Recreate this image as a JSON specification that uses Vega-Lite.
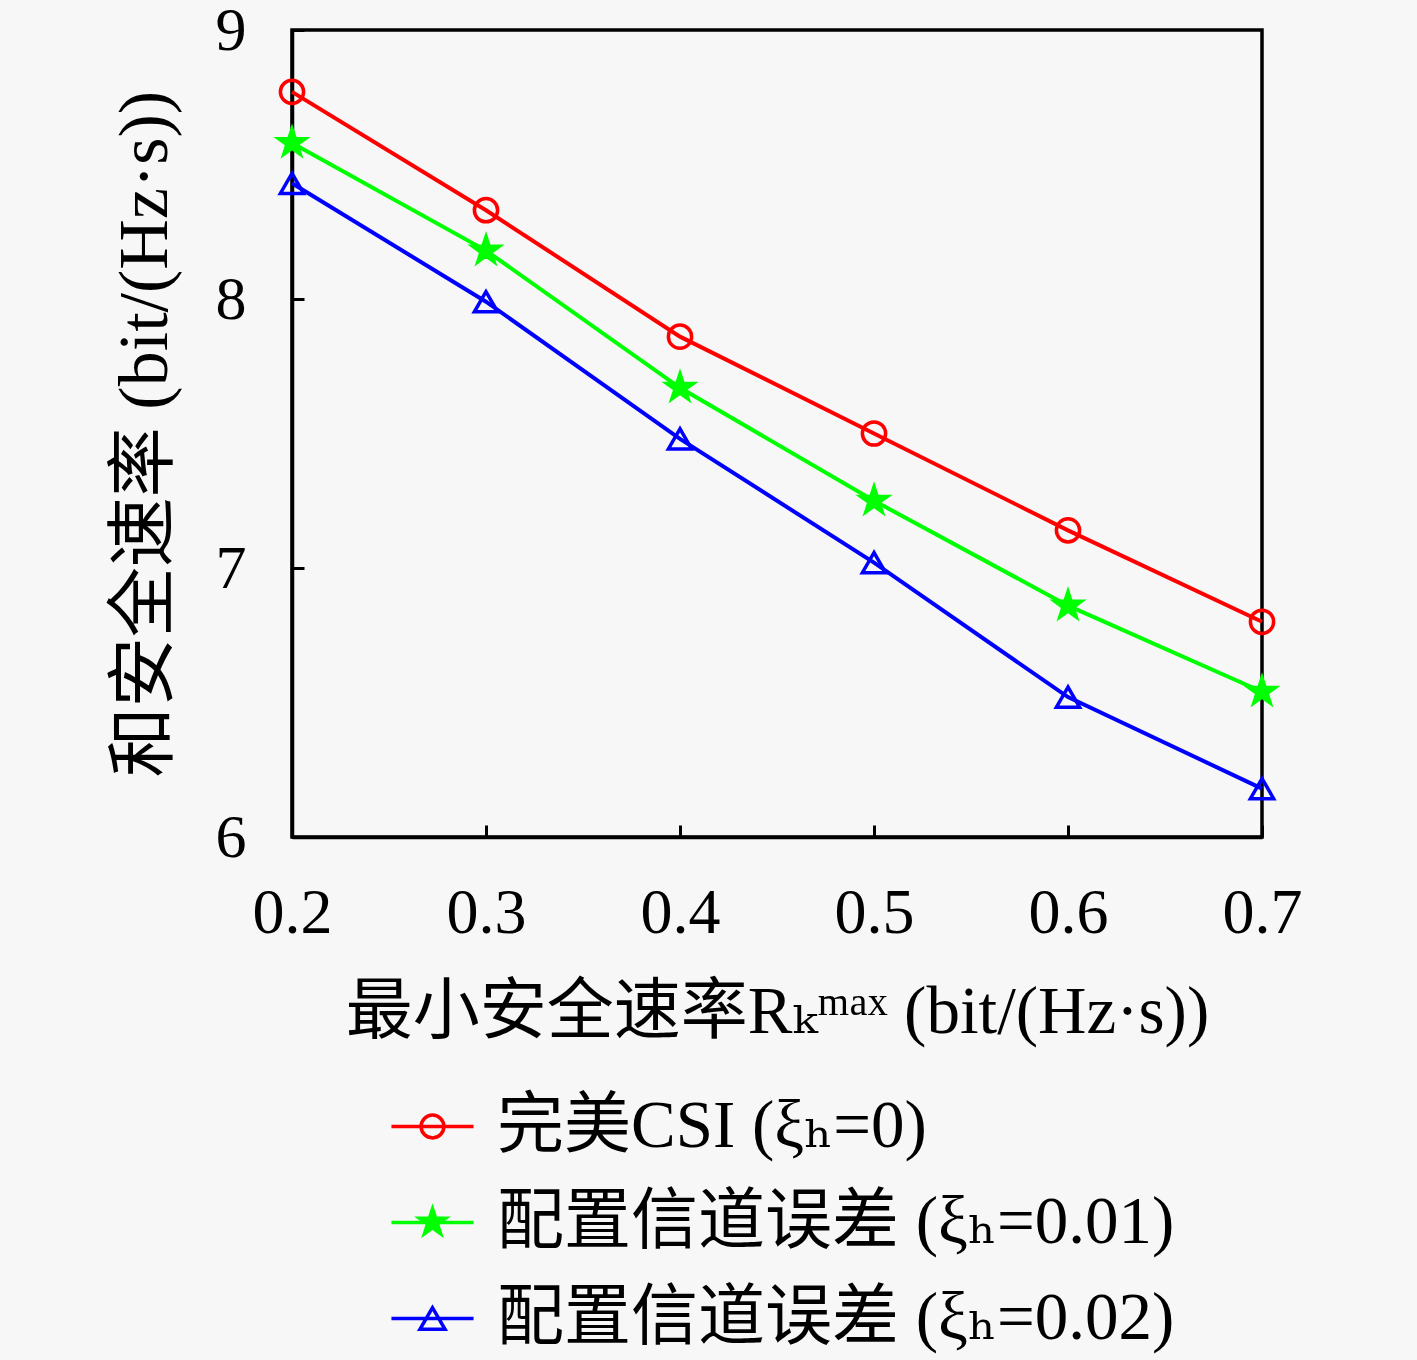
{
  "$schema": "https://vega.github.io/schema/vega-lite/v6.json",
  "width": 970,
  "height": 807,
  "autosize": {"type": "none"},
  "padding": {"left": 292, "top": 30, "right": 155, "bottom": 523},
  "background": "#f7f7f7",
  "config": {
    "font": "Liberation Serif, DejaVu Serif, Noto Sans CJK SC",
    "view": {"stroke": "black", "strokeWidth": 3.5},
    "axis": {
      "grid": false,
      "domainColor": "black",
      "domainWidth": 3.5,
      "tickColor": "black",
      "tickWidth": 3,
      "tickSize": -12,
      "labelColor": "black",
      "titleColor": "black",
      "titleFontWeight": "normal",
      "labelFont": "Liberation Serif, DejaVu Serif, Noto Sans CJK SC",
      "titleFont": "Liberation Serif, DejaVu Serif, Noto Sans CJK SC"
    }
  },
  "data": {
    "values": [
      {"x": 0.2, "series": "完美CSI (ξₕ=0)", "value": 8.77},
      {"x": 0.3, "series": "完美CSI (ξₕ=0)", "value": 8.33},
      {"x": 0.4, "series": "完美CSI (ξₕ=0)", "value": 7.86},
      {"x": 0.5, "series": "完美CSI (ξₕ=0)", "value": 7.50},
      {"x": 0.6, "series": "完美CSI (ξₕ=0)", "value": 7.14},
      {"x": 0.7, "series": "完美CSI (ξₕ=0)", "value": 6.80},
      {"x": 0.2, "series": "配置信道误差 (ξₕ=0.01)", "value": 8.58},
      {"x": 0.3, "series": "配置信道误差 (ξₕ=0.01)", "value": 8.18},
      {"x": 0.4, "series": "配置信道误差 (ξₕ=0.01)", "value": 7.67},
      {"x": 0.5, "series": "配置信道误差 (ξₕ=0.01)", "value": 7.25},
      {"x": 0.6, "series": "配置信道误差 (ξₕ=0.01)", "value": 6.86},
      {"x": 0.7, "series": "配置信道误差 (ξₕ=0.01)", "value": 6.54},
      {"x": 0.2, "series": "配置信道误差 (ξₕ=0.02)", "value": 8.43},
      {"x": 0.3, "series": "配置信道误差 (ξₕ=0.02)", "value": 7.99},
      {"x": 0.4, "series": "配置信道误差 (ξₕ=0.02)", "value": 7.48},
      {"x": 0.5, "series": "配置信道误差 (ξₕ=0.02)", "value": 7.02},
      {"x": 0.6, "series": "配置信道误差 (ξₕ=0.02)", "value": 6.52},
      {"x": 0.7, "series": "配置信道误差 (ξₕ=0.02)", "value": 6.18}
    ]
  },
  "encoding": {
    "x": {
      "field": "x",
      "type": "quantitative",
      "scale": {"domain": [0.2, 0.7], "nice": false, "zero": false},
      "axis": {
        "values": [0.2, 0.3, 0.4, 0.5, 0.6, 0.7],
        "format": ".1f",
        "labelFontSize": 64,
        "labelPadding": 56,
        "labelFlush": false,
        "title": "最小安全速率Rₖᵐᵃˣ (bit/(Hz·s))",
        "titleFontSize": 67,
        "titleY": 175,
        "titleBaseline": "middle"
      }
    },
    "y": {
      "field": "value",
      "type": "quantitative",
      "scale": {"domain": [6, 9], "nice": false, "zero": false},
      "axis": {
        "values": [6, 7, 8, 9],
        "format": "d",
        "labelFontSize": 62,
        "labelPadding": 58,
        "labelFlush": false,
        "title": "和安全速率 (bit/(Hz·s))",
        "titleFontSize": 70,
        "titleX": -147,
        "titleBaseline": "middle",
        "titleAlign": "center"
      }
    },
    "color": {
      "field": "series",
      "type": "nominal",
      "scale": {"range": ["#ff0000", "#00ff00", "#0000ff"]},
      "legend": {
        "orient": "none",
        "legendX": 107,
        "legendY": 1063,
        "title": null,
        "padding": 0,
        "labelFontSize": 67,
        "labelColor": "black",
        "labelLimit": 0,
        "labelOffset": 31,
        "symbolSize": 520,
        "symbolStrokeWidth": 3.5,
        "symbolOpacity": 1,
        "rowPadding": 28,
        "encode": {
          "symbols": {
            "update": {
              "shape": {"signal": "indexof(datum.value, '0.01') >= 0 ? 'M-3.6,0H3.6M0,-1.2L0.27,-0.372L1.141,-0.371L0.437,0.142L0.705,0.971L0,0.46L-0.705,0.971L-0.437,0.142L-1.141,-0.371L-0.27,-0.372Z' : indexof(datum.value, '0.02') >= 0 ? 'M-3.6,0H3.6M0,-0.95L-1.1,0.95L1.1,0.95Z' : 'M-3.6,0H3.6M1,0A1,1,0,1,1,-1,0A1,1,0,1,1,1,0'"},
              "fill": {"signal": "indexof(datum.value, '0.01') >= 0 ? '#00ff00' : 'transparent'"}
            }
          }
        }
      }
    }
  },
  "layer": [
    {
      "mark": {"type": "line", "strokeWidth": 4}
    },
    {
      "mark": {"type": "point", "filled": false, "strokeWidth": 3.5, "size": 540, "opacity": 1},
      "encoding": {
        "shape": {
          "field": "series",
          "type": "nominal",
          "scale": {"range": ["circle", "M0,-1.2L0.27,-0.372L1.141,-0.371L0.437,0.142L0.705,0.971L0,0.46L-0.705,0.971L-0.437,0.142L-1.141,-0.371L-0.27,-0.372Z", "triangle-up"]},
          "legend": null
        },
        "fill": {
          "field": "series",
          "type": "nominal",
          "scale": {"range": ["transparent", "#00ff00", "transparent"]},
          "legend": null
        }
      }
    }
  ]
}
